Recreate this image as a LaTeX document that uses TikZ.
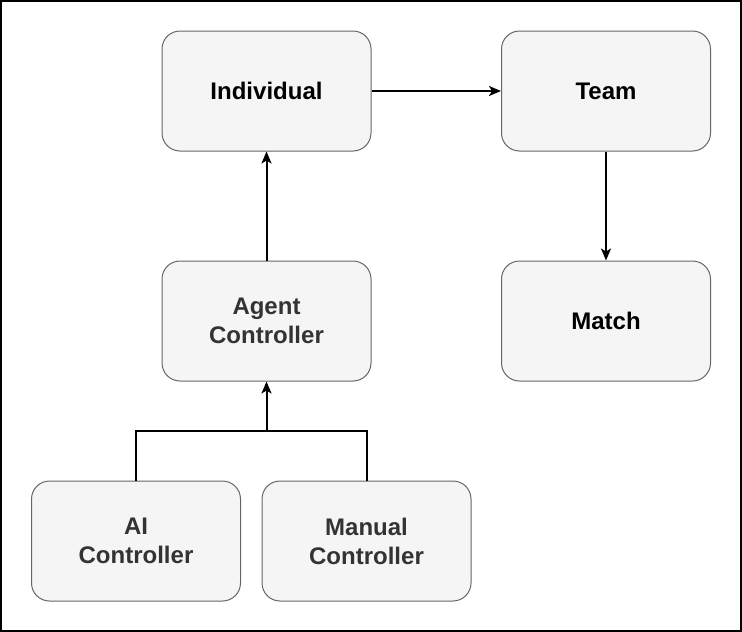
\documentclass[tikz,border=0pt]{standalone}
\usepackage{fontspec}
\setmainfont{Liberation Sans}
\usetikzlibrary{arrows.meta}
\definecolor{boxfill}{HTML}{F5F5F5}
\definecolor{boxline}{HTML}{666666}
\definecolor{darktext}{HTML}{333333}
\begin{document}
\begin{tikzpicture}[x=1pt,y=-1pt,
  box/.style={draw=boxline, fill=boxfill, line width=1pt, rounded corners=18pt,
    minimum width=209pt, minimum height=120pt, inner sep=0pt, align=center,
    font=\fontsize{24}{29}\selectfont\bfseries},
  conn/.style={line width=2pt, -{Stealth[length=12pt,width=10pt,inset=3pt]}}
]
\useasboundingbox (0,0) rectangle (742,632);
\draw[line width=2pt] (1,1) rectangle (741,631);
\node[box] (ind) at (266.5,91) {Individual};
\node[box] (team) at (606,91) {Team};
\node[box, text=darktext] (agent) at (266.5,321) {Agent\\Controller};
\node[box] (match) at (606,321) {Match};
\node[box, text=darktext] (ai) at (136,541) {AI\\Controller};
\node[box, text=darktext] (man) at (366.5,541) {Manual\\Controller};
\coordinate (j) at (266.5,431);
\draw[conn] (ind) -- (team);
\draw[conn] (agent) -- (ind);
\draw[conn] (team) -- (match);
\draw[line width=2pt] (ai.north) |- (man.north |- j) -- (man.north);
\draw[conn] (j) -- (agent);
\end{tikzpicture}
\end{document}
